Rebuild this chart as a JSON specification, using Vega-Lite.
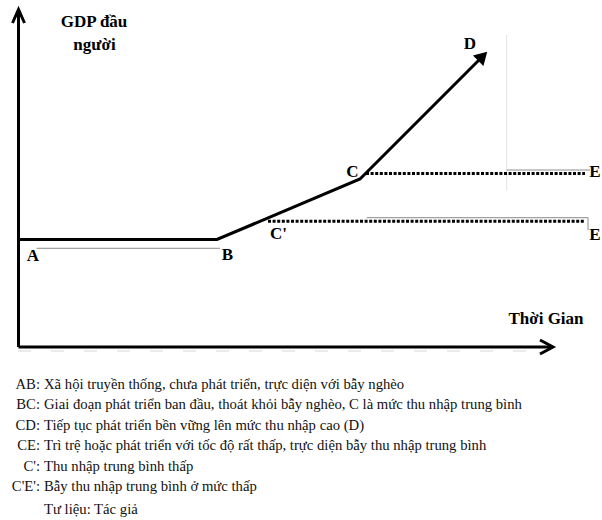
{
  "$schema": "https://vega.github.io/schema/vega-lite/v6.json",
  "width": 602,
  "height": 520,
  "padding": 0,
  "autosize": {"type": "fit", "contains": "padding"},
  "background": "white",
  "view": {"stroke": null},
  "datasets": {
    "solid": [
      {"seg": "yaxis", "ord": 1, "t": 0.5, "g": 0},
      {"seg": "yaxis", "ord": 2, "t": 0.5, "g": 336},
      {"seg": "yarrow", "ord": 1, "t": -5.5, "g": 324},
      {"seg": "yarrow", "ord": 2, "t": 0.5, "g": 337.5},
      {"seg": "yarrow", "ord": 3, "t": 6.5, "g": 324},
      {"seg": "xaxis", "ord": 1, "t": 0.5, "g": 0},
      {"seg": "xaxis", "ord": 2, "t": 534, "g": 0},
      {"seg": "xarrow", "ord": 1, "t": 522, "g": 7},
      {"seg": "xarrow", "ord": 2, "t": 535, "g": 0},
      {"seg": "xarrow", "ord": 3, "t": 522, "g": -7},
      {"seg": "path", "ord": 1, "t": 0.5, "g": 107.5},
      {"seg": "path", "ord": 2, "t": 199, "g": 107.5},
      {"seg": "path", "ord": 3, "t": 342, "g": 168},
      {"seg": "path", "ord": 4, "t": 464, "g": 290}
    ],
    "dotted": [
      {"seg": "CE", "ord": 1, "t": 348, "g": 173.5},
      {"seg": "CE", "ord": 2, "t": 567, "g": 173.5},
      {"seg": "C'E'", "ord": 1, "t": 250, "g": 125.7},
      {"seg": "C'E'", "ord": 2, "t": 567, "g": 125.7}
    ],
    "gray": [
      {"seg": "g1", "ord": 1, "t": 18.7, "g": 98.7},
      {"seg": "g1", "ord": 2, "t": 202, "g": 98.7},
      {"seg": "g2", "ord": 1, "t": 348.7, "g": 129.3},
      {"seg": "g2", "ord": 2, "t": 570, "g": 129.3},
      {"seg": "g2", "ord": 3, "t": 570, "g": 117},
      {"seg": "g3", "ord": 1, "t": 488.7, "g": 177},
      {"seg": "g3", "ord": 2, "t": 572, "g": 177}
    ],
    "faint": [
      {"seg": "v", "ord": 1, "t": 488.7, "g": 312},
      {"seg": "v", "ord": 2, "t": 488.7, "g": 157}
    ],
    "ticks": [
      {"seg": "d", "ord": 1, "t": 0, "g": -4},
      {"seg": "d", "ord": 2, "t": 530, "g": -4}
    ],
    "head": [
      {"t": 464.7, "g": 290.7}
    ],
    "labels": [
      {"label": "GDP đầu", "t": 76, "g": 320},
      {"label": "người", "t": 76.5, "g": 297},
      {"label": "A", "t": 15, "g": 86},
      {"label": "B", "t": 209.5, "g": 87},
      {"label": "C", "t": 334.5, "g": 170},
      {"label": "C'", "t": 260.5, "g": 108.5},
      {"label": "D", "t": 452, "g": 298.5},
      {"label": "E", "t": 577, "g": 170.5},
      {"label": "E", "t": 577, "g": 107},
      {"label": "Thời Gian", "t": 528, "g": 23}
    ],
    "notes": [
      {"key": "AB:", "desc": "Xã hội truyền thống, chưa phát triển, trực diện với bẫy nghèo", "g": -41.5},
      {"key": "BC:", "desc": "Giai đoạn phát triển ban đầu, thoát khỏi bẫy nghèo, C là mức thu nhập trung bình", "g": -62},
      {"key": "CD:", "desc": "Tiếp tục phát triển bền vững lên mức thu nhập cao (D)", "g": -82.5},
      {"key": "CE:", "desc": "Trì trệ hoặc phát triển với tốc độ rất thấp, trực diện bẫy thu nhập trung bình", "g": -103},
      {"key": "C':", "desc": "Thu nhập trung bình thấp", "g": -123.5},
      {"key": "C'E':", "desc": "Bẫy thu nhập trung bình ở mức thấp", "g": -144},
      {"key": " ", "desc": "Tư liệu: Tác giả", "g": -167}
    ]
  },
  "layer": [
    {
      "data": {"name": "ticks"},
      "mark": {"type": "line", "color": "#d6d6d6", "strokeWidth": 1, "strokeDash": [13, 20]},
      "encoding": {
        "x": {"field": "t", "type": "quantitative", "scale": {"domain": [-18, 584], "nice": false, "zero": false}, "axis": null},
        "y": {"field": "g", "type": "quantitative", "scale": {"domain": [-173, 347], "nice": false, "zero": false}, "axis": null},
        "detail": {"field": "seg"}, "order": {"field": "ord"}
      }
    },
    {
      "data": {"name": "faint"},
      "mark": {"type": "line", "color": "#e2e2e2", "strokeWidth": 1},
      "encoding": {
        "x": {"field": "t", "type": "quantitative", "scale": {"domain": [-18, 584], "nice": false, "zero": false}, "axis": null},
        "y": {"field": "g", "type": "quantitative", "scale": {"domain": [-173, 347], "nice": false, "zero": false}, "axis": null},
        "detail": {"field": "seg"}, "order": {"field": "ord"}
      }
    },
    {
      "data": {"name": "gray"},
      "mark": {"type": "line", "color": "#8c8c8c", "strokeWidth": 1},
      "encoding": {
        "x": {"field": "t", "type": "quantitative", "scale": {"domain": [-18, 584], "nice": false, "zero": false}, "axis": null},
        "y": {"field": "g", "type": "quantitative", "scale": {"domain": [-173, 347], "nice": false, "zero": false}, "axis": null},
        "detail": {"field": "seg"}, "order": {"field": "ord"}
      }
    },
    {
      "data": {"name": "solid"},
      "mark": {"type": "line", "color": "black", "strokeWidth": 3, "strokeJoin": "miter", "strokeCap": "butt"},
      "encoding": {
        "x": {"field": "t", "type": "quantitative", "scale": {"domain": [-18, 584], "nice": false, "zero": false}, "axis": null},
        "y": {"field": "g", "type": "quantitative", "scale": {"domain": [-173, 347], "nice": false, "zero": false}, "axis": null},
        "detail": {"field": "seg"}, "order": {"field": "ord"}
      }
    },
    {
      "data": {"name": "dotted"},
      "mark": {"type": "line", "color": "black", "strokeWidth": 3, "strokeDash": [3, 1.6]},
      "encoding": {
        "x": {"field": "t", "type": "quantitative", "scale": {"domain": [-18, 584], "nice": false, "zero": false}, "axis": null},
        "y": {"field": "g", "type": "quantitative", "scale": {"domain": [-173, 347], "nice": false, "zero": false}, "axis": null},
        "detail": {"field": "seg"}, "order": {"field": "ord"}
      }
    },
    {
      "data": {"name": "head"},
      "mark": {"type": "point", "shape": "triangle-up", "filled": true, "color": "black", "opacity": 1, "size": 220, "angle": 45},
      "encoding": {
        "x": {"field": "t", "type": "quantitative", "scale": {"domain": [-18, 584], "nice": false, "zero": false}, "axis": null},
        "y": {"field": "g", "type": "quantitative", "scale": {"domain": [-173, 347], "nice": false, "zero": false}, "axis": null}
      }
    },
    {
      "data": {"name": "labels"},
      "mark": {"type": "text", "font": "Liberation Serif", "fontWeight": "bold", "fontSize": 17, "align": "center", "baseline": "alphabetic", "color": "black"},
      "encoding": {
        "x": {"field": "t", "type": "quantitative", "scale": {"domain": [-18, 584], "nice": false, "zero": false}, "axis": null},
        "y": {"field": "g", "type": "quantitative", "scale": {"domain": [-173, 347], "nice": false, "zero": false}, "axis": null},
        "text": {"field": "label"}
      }
    },
    {
      "data": {"name": "notes"},
      "mark": {"type": "text", "font": "Liberation Serif", "fontSize": 14.7, "align": "right", "baseline": "alphabetic", "color": "#111"},
      "encoding": {
        "x": {"datum": 22, "type": "quantitative", "scale": {"domain": [-18, 584], "nice": false, "zero": false}, "axis": null},
        "y": {"field": "g", "type": "quantitative", "scale": {"domain": [-173, 347], "nice": false, "zero": false}, "axis": null},
        "text": {"field": "key"}
      }
    },
    {
      "data": {"name": "notes"},
      "mark": {"type": "text", "font": "Liberation Serif", "fontSize": 14.7, "align": "left", "baseline": "alphabetic", "color": "#111"},
      "encoding": {
        "x": {"datum": 26, "type": "quantitative", "scale": {"domain": [-18, 584], "nice": false, "zero": false}, "axis": null},
        "y": {"field": "g", "type": "quantitative", "scale": {"domain": [-173, 347], "nice": false, "zero": false}, "axis": null},
        "text": {"field": "desc"}
      }
    }
  ]
}
